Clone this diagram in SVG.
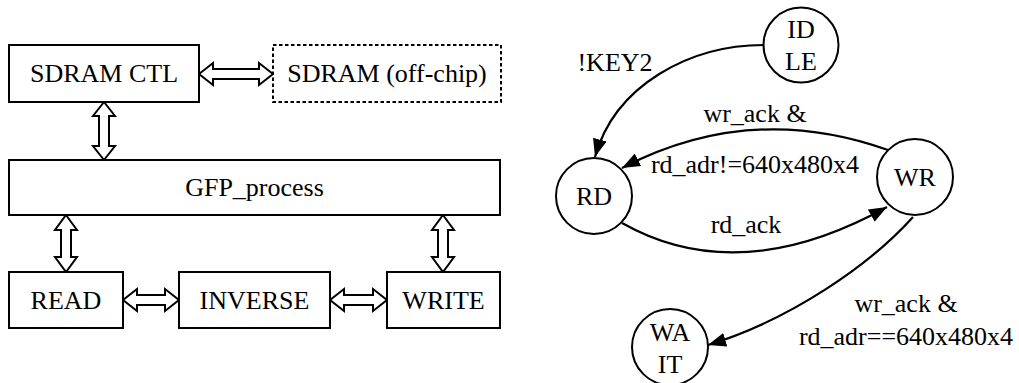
<svg xmlns="http://www.w3.org/2000/svg" width="1019" height="383" viewBox="0 0 1019 383">
<style>
.box{fill:#fff;stroke:#000;stroke-width:2}
.dash{fill:#fff;stroke:#000;stroke-width:2;stroke-dasharray:3.5 2.5}
.dbl{fill:#fff;stroke:#000;stroke-width:2;stroke-linejoin:miter}
.st{fill:#fff;stroke:#000;stroke-width:2}
.edge{fill:none;stroke:#000;stroke-width:2.2}
.t{font-family:'Liberation Serif','Times New Roman',serif;font-size:26px;fill:#000;text-anchor:middle}
</style>
<defs>
<marker id="ah" viewBox="0 0 18 14" refX="18" refY="7" markerWidth="18" markerHeight="14" markerUnits="userSpaceOnUse" orient="auto">
<path d="M0,0 L18,7 L0,14 Z" fill="#000"/>
</marker>
</defs>
<g id="connectors">
<polygon class="dbl" points="199,74 213,63 213,69 259,69 259,63 273,74 259,85 259,79 213,79 213,85"/>
<polygon class="dbl" points="104,102 115,116 109,116 109,146 115,146 104,160 93,146 99,146 99,116 93,116"/>
<polygon class="dbl" points="66,215 77,230 71,230 71,257 77,257 66,272 55,257 61,257 61,230 55,230"/>
<polygon class="dbl" points="443,215 454,230 448,230 448,257 454,257 443,272 432,257 438,257 438,230 432,230"/>
<polygon class="dbl" points="123,300 137,289 137,295 165,295 165,289 179,300 165,311 165,305 137,305 137,311"/>
<polygon class="dbl" points="330,300 344,289 344,295 373,295 373,289 387,300 373,311 373,305 344,305 344,311"/>
<path class="edge" d="M764,45 C690,45 615,85 595,157" marker-end="url(#ah)"/>
<path class="edge" d="M888,150 Q751,101 622,168" marker-end="url(#ah)"/>
<path class="edge" d="M622,223 Q739,289 887,207" marker-end="url(#ah)"/>
<path class="edge" d="M913,217 C870,265 790,320 708,345" marker-end="url(#ah)"/>
<text class="t" x="615" y="71">!KEY2</text>
<text class="t" x="755" y="122">wr_ack &amp;</text>
<text class="t" x="755" y="173">rd_adr!=640x480x4</text>
<text class="t" x="746" y="233">rd_ack</text>
<text class="t" x="906" y="312">wr_ack &amp;</text>
<text class="t" x="906" y="345">rd_adr==640x480x4</text>
</g>
<g id="sdram_ctl"><rect class="box" x="9" y="45" width="190" height="57"/><text class="t" x="104" y="82">SDRAM CTL</text></g>
<g id="sdram_offchip"><rect class="dash" x="273" y="45" width="228" height="57"/><text class="t" x="387" y="82">SDRAM (off-chip)</text></g>
<g id="gfp_process"><rect class="box" x="9" y="160" width="491" height="55"/><text class="t" x="254.5" y="196">GFP_process</text></g>
<g id="read"><rect class="box" x="9" y="272" width="114" height="56"/><text class="t" x="66" y="309">READ</text></g>
<g id="inverse"><rect class="box" x="179" y="272" width="151" height="56"/><text class="t" x="254.5" y="309">INVERSE</text></g>
<g id="write"><rect class="box" x="387" y="272" width="113" height="56"/><text class="t" x="443.5" y="309">WRITE</text></g>
<g id="idle"><circle class="st" cx="801" cy="45" r="37.5"/><text class="t" x="801" y="38">ID</text><text class="t" x="801" y="70">LE</text></g>
<g id="rd"><circle class="st" cx="594" cy="196" r="38"/><text class="t" x="594" y="205">RD</text></g>
<g id="wr"><circle class="st" cx="915" cy="177" r="38"/><text class="t" x="915" y="186">WR</text></g>
<g id="wait"><circle class="st" cx="670" cy="347" r="38"/><text class="t" x="670" y="341">WA</text><text class="t" x="670" y="373">IT</text></g>
</svg>
